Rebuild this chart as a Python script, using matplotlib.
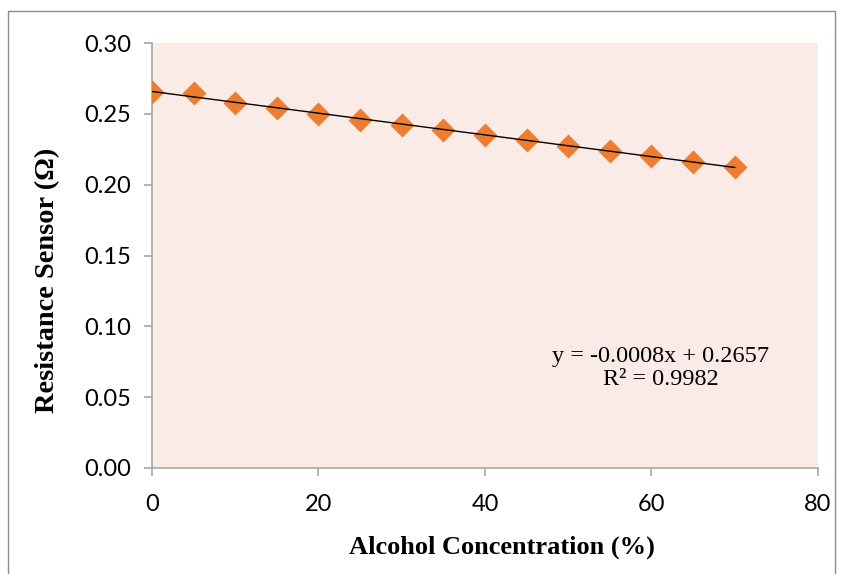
import numpy as np
import matplotlib
matplotlib.use("Agg")
import matplotlib.pyplot as plt
from matplotlib.patches import Rectangle

# data
conc = [0, 5, 10, 15, 20, 25, 30, 35, 40, 45, 50, 55, 60, 65, 70]
resistance = [0.2654, 0.2645, 0.2578, 0.2540, 0.2500, 0.2458, 0.2422,
              0.2386, 0.2350, 0.2315, 0.2273, 0.2238, 0.2202, 0.2162, 0.2125]
x_ticks = [0, 20, 40, 60, 80]
y_ticks = [0.00, 0.05, 0.10, 0.15, 0.20, 0.25, 0.30]

fig = plt.figure(figsize=(8.43, 5.74), dpi=100)
ax = fig.add_axes([0.1803, 0.1847, 0.79, 0.7403])
ax.set_facecolor("#FAEBE6")

# outer chart border
fig.patches.append(Rectangle((0.0095, -0.01), 0.981, 0.991, transform=fig.transFigure,
                             fill=False, edgecolor="#8c8c8c", linewidth=1.0))

ax.scatter(conc, resistance, marker="D", s=150, color="#ED7D31", zorder=3, linewidths=0)

# linear trendline
slope, intercept = np.polyfit(conc, resistance, 1)
xs = np.array([conc[0], conc[-1]])
ax.plot(xs, slope * xs + intercept, color="black", linewidth=1.0, zorder=4)

ax.text(0.764, 0.235, "y = -0.0008x + 0.2657\nR² = 0.9982", transform=ax.transAxes,
        ha="center", va="center", fontsize=17.5, family="Liberation Serif",
        linespacing=1.1)

ax.set_xlim(0, 80)
ax.set_ylim(0, 0.30)
ax.set_xticks(x_ticks)
ax.set_yticks(y_ticks)
ax.set_yticklabels([f"{v:.2f}" for v in y_ticks])
for lab in ax.get_xticklabels() + ax.get_yticklabels():
    lab.set_family("Lato")
    lab.set_fontsize(17)

ax.tick_params(axis="both", direction="out", length=6, color="#a6a6a6", width=1.2)
ax.tick_params(axis="x", pad=13)
ax.tick_params(axis="y", pad=9)
for side in ["top", "right"]:
    ax.spines[side].set_visible(False)
for side in ["left", "bottom"]:
    ax.spines[side].set_color("#a6a6a6")
    ax.spines[side].set_linewidth(1.2)

ax.set_xlabel("Alcohol Concentration (%)", family="Liberation Serif",
              fontweight="bold", fontsize=19)
ax.set_ylabel("Resistance Sensor (Ω)", family="Liberation Serif",
              fontweight="bold", fontsize=20.4)
ax.xaxis.set_label_coords(0.526, -0.160)
ax.yaxis.set_label_coords(-0.138, 0.442)

fig.savefig("out.png", dpi=100)
